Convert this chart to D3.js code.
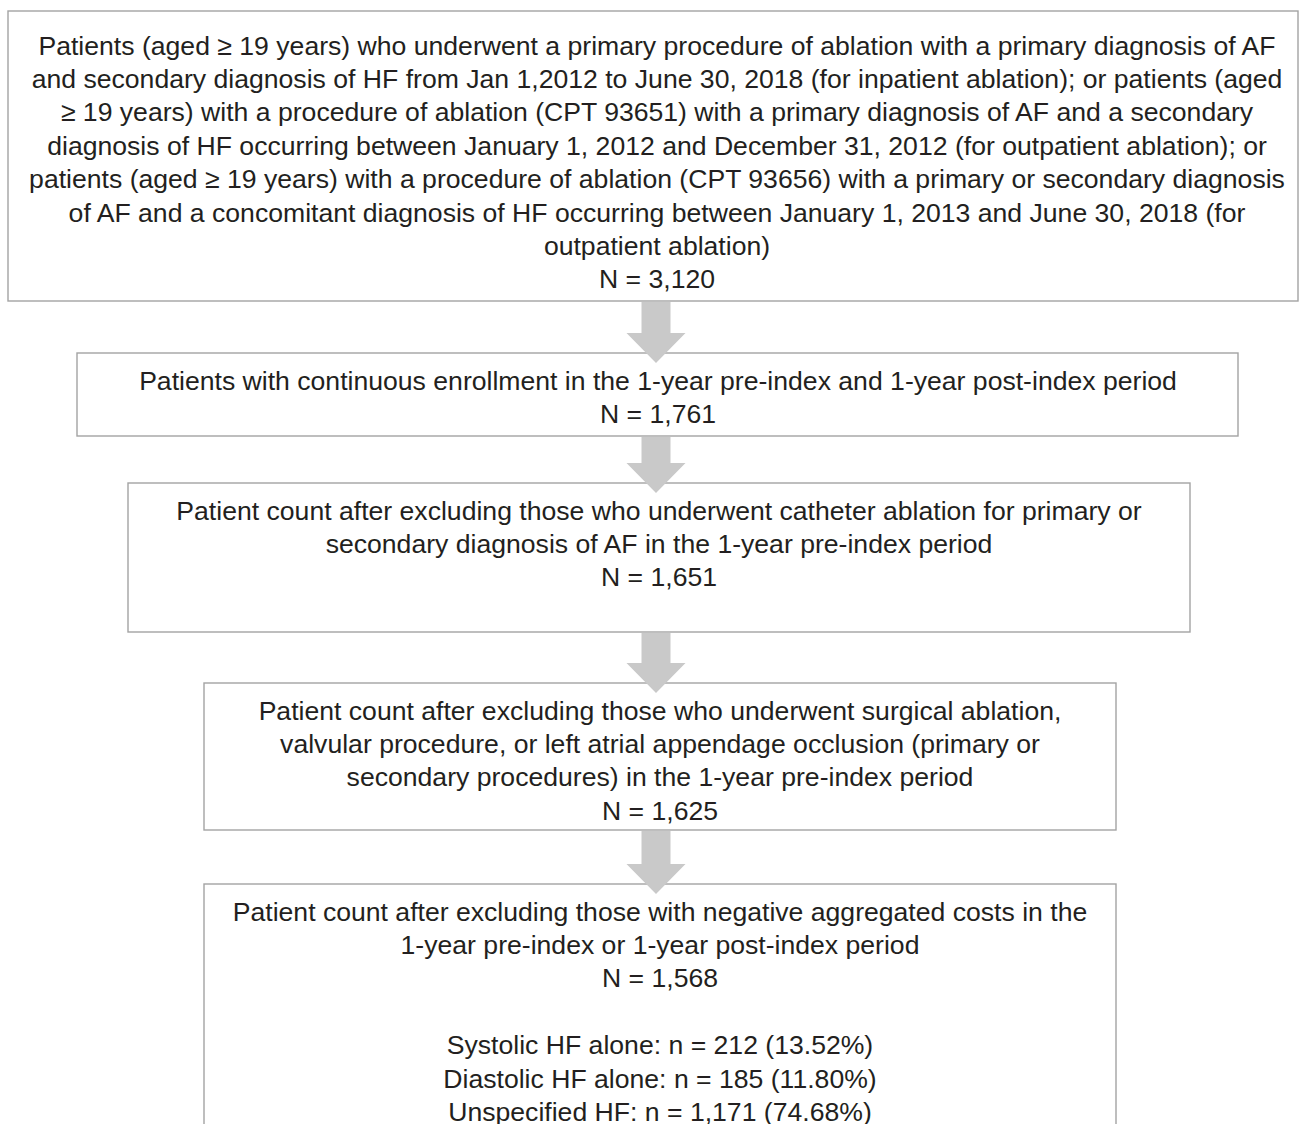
<!DOCTYPE html>
<html lang="en">
<head>
    <meta charset="UTF-8">
    <title>Patient selection flowchart</title>
    <script src="https://d3js.org/d3.v7.min.js"></script>
    <style>
        body { margin: 0; background: #fff; }
    </style>
</head>
<body>
    <svg id="flow" width="1300" height="1124"></svg>
    <script>
        // Text of each step (one entry per box)
        const stepText = [
            ["Patients (aged \u2265 19 years) who underwent a primary procedure of ablation with a primary diagnosis of AF",
             "and secondary diagnosis of HF from Jan 1,2012 to June 30, 2018 (for inpatient ablation); or patients (aged",
             "\u2265 19 years) with a procedure of ablation (CPT 93651) with a primary diagnosis of AF and a secondary",
             "diagnosis of HF occurring between January 1, 2012 and December 31, 2012 (for outpatient ablation); or",
             "patients (aged \u2265 19 years) with a procedure of ablation (CPT 93656) with a primary or secondary diagnosis",
             "of AF and a concomitant diagnosis of HF occurring between January 1, 2013 and June 30, 2018 (for",
             "outpatient ablation)"],
            ["Patients with continuous enrollment in the 1-year pre-index and 1-year post-index period"],
            ["Patient count after excluding those who underwent catheter ablation for primary or",
             "secondary diagnosis of AF in the 1-year pre-index period"],
            ["Patient count after excluding those who underwent surgical ablation,",
             "valvular procedure, or left atrial appendage occlusion (primary or",
             "secondary procedures) in the 1-year pre-index period"],
            ["Patient count after excluding those with negative aggregated costs in the",
             "1-year pre-index or 1-year post-index period"]
        ];
        const stepCounts = ["3,120", "1,761", "1,651", "1,625", "1,568"];

        // HF subtypes in final cohort
        const hfTypes = ["Systolic HF alone", "Diastolic HF alone", "Unspecified HF"];
        const hfCounts = ["212", "185", "1,171"];
        const hfPct = ["13.52", "11.80", "74.68"];

        // box layout (left, right, top, bottom, text centre, first baseline offset)
        const boxes = [
            { x0: 8, x1: 1298, y0: 11, y1: 301, cx: 657, pad: 43.5 },
            { x0: 77, x1: 1238, y0: 353, y1: 436, cx: 658, pad: 36.5 },
            { x0: 128, x1: 1190, y0: 483, y1: 632, cx: 659, pad: 36.5 },
            { x0: 204, x1: 1116, y0: 683, y1: 830, cx: 660, pad: 36.5 },
            { x0: 204, x1: 1116, y0: 884, y1: 1140, cx: 660, pad: 36.5 }
        ];

        const lineH = 33.4;
        const svg = d3.select("#flow");

        // arrows between boxes
        const arrow = (xc, yTop, yTip) => {
            const sw = 14.5, hw = 29.5, hh = 30;
            const yh = yTip - hh;
            return d3.line()([
                [xc - sw, yTop], [xc + sw, yTop], [xc + sw, yh], [xc + hw, yh],
                [xc, yTip], [xc - hw, yh], [xc - sw, yh]
            ]) + "Z";
        };

        svg.selectAll("rect.box")
            .data(boxes)
            .join("rect")
            .attr("class", "box")
            .attr("x", d => d.x0)
            .attr("y", d => d.y0)
            .attr("width", d => d.x1 - d.x0)
            .attr("height", d => d.y1 - d.y0)
            .attr("fill", "#fff")
            .attr("stroke", "#a3a3a3")
            .attr("stroke-width", 1.4);

        svg.selectAll("path.arrow")
            .data(d3.pairs(boxes))
            .join("path")
            .attr("class", "arrow")
            .attr("fill", "#c9c9c9")
            .attr("d", ([a, b]) => arrow(656, a.y1 + 1, b.y0 + 10));

        // text blocks
        const blocks = stepText.map((lines, i) => {
            let all = lines.concat(["N = " + stepCounts[i]]);
            if (i === stepText.length - 1) {
                all = all.concat([""], hfTypes.map((t, j) =>
                    `${t}: n = ${hfCounts[j]} (${hfPct[j]}%)`));
            }
            return { lines: all, box: boxes[i] };
        });

        svg.selectAll("text.step")
            .data(blocks)
            .join("text")
            .attr("class", "step")
            .attr("text-anchor", "middle")
            .attr("font-family", "'Liberation Sans', Arial, sans-serif")
            .attr("font-size", 26.6)
            .attr("fill", "#231f20")
            .each(function (d) {
                d3.select(this).selectAll("tspan")
                    .data(d.lines)
                    .join("tspan")
                    .attr("x", d.box.cx)
                    .attr("y", (l, k) => d.box.y0 + d.box.pad + k * lineH)
                    .text(l => l);
            });
    </script>
</body>
</html>
